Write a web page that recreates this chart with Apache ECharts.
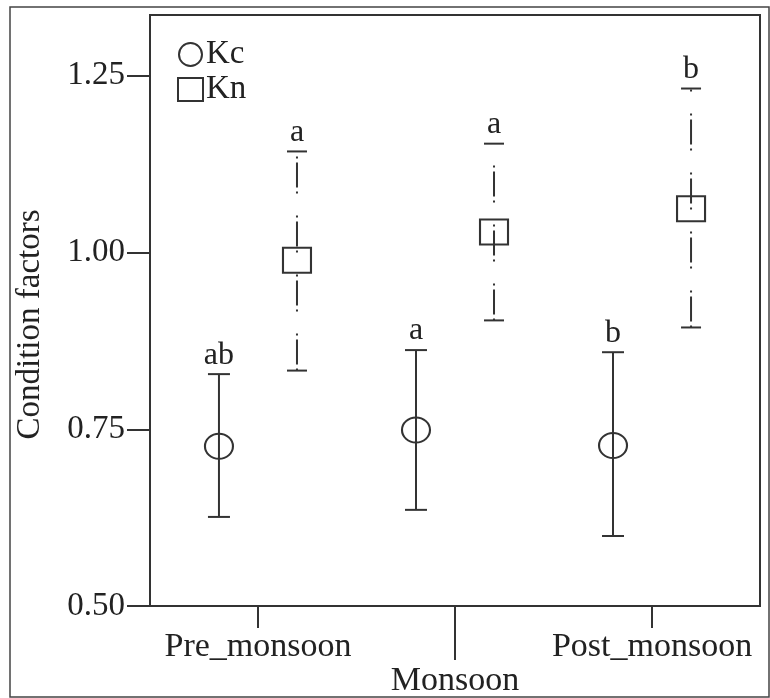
<!DOCTYPE html>
<html>
<head>
<meta charset="utf-8">
<script src="https://cdn.jsdelivr.net/npm/echarts@6/dist/echarts.min.js"></script>
<style>
  html, body { margin: 0; padding: 0; background: #fff; }
  #chart { width: 770px; height: 698px; }
</style>
</head>
<body>
<div id="chart"></div>
<script>
// ---- data ----
const categories = ['Pre_monsoon', 'Monsoon', 'Post_monsoon'];
const yTicks = [0.50, 0.75, 1.00, 1.25];

const kcMean = [0.726, 0.749, 0.727];
const kcLow  = [0.626, 0.636, 0.599];
const kcHigh = [0.828, 0.862, 0.859];
const kcLetters = ['ab', 'a', 'b'];

const knMean = [0.989, 1.029, 1.062];
const knLow  = [0.833, 0.904, 0.894];
const knHigh = [1.143, 1.154, 1.232];
const knLetters = ['a', 'a', 'b'];

// ---- styling / layout ----
const FONT = 'Liberation Serif';
const INK = '#333';
const TXT = '#222';
const OFFSET = 0.198; // horizontal dodge of the two groups (axis units)

const catPos = categories.map((c, i) => i + 1);

function pts(mean, dir) {
  return mean.map((m, i) => [catPos[i] + dir * OFFSET, m]);
}
function bars(low, high, letters, dir) {
  return low.map((l, i) => [catPos[i] + dir * OFFSET, l, high[i], letters[i]]);
}

function errRender(capHalf, dash) {
  return function (params, api) {
    const x = api.value(0);
    const lo = api.coord([x, api.value(1)]);
    const hi = api.coord([x, api.value(2)]);
    const st = { stroke: INK, lineWidth: 2, lineDash: dash || null };
    const capSt = { stroke: INK, lineWidth: 2 };
    return {
      type: 'group',
      children: [
        { type: 'line', shape: { x1: lo[0], y1: lo[1], x2: hi[0], y2: hi[1] }, style: st },
        { type: 'line', shape: { x1: lo[0] - capHalf, y1: lo[1], x2: lo[0] + capHalf, y2: lo[1] }, style: capSt },
        { type: 'line', shape: { x1: hi[0] - capHalf, y1: hi[1], x2: hi[0] + capHalf, y2: hi[1] }, style: capSt },
        { type: 'text', x: hi[0], y: hi[1] - 3,
          style: { text: api.value(3), fill: TXT, font: '32px "' + FONT + '"', align: 'center', verticalAlign: 'bottom' } }
      ]
    };
  };
}

const chart = echarts.init(document.getElementById('chart'));
const option = {
  backgroundColor: '#fff',
  animation: false,
  graphic: [{
    type: 'rect', z: 100, silent: true,
    shape: { x: 10, y: 7, width: 759, height: 690 },
    style: { fill: 'none', stroke: '#444', lineWidth: 1.5 }
  }],
  grid: {
    left: 150, right: 10, top: 15, bottom: 90,
    show: true, borderColor: INK, borderWidth: 2, backgroundColor: 'transparent'
  },
  legend: {
    orient: 'vertical', left: 172, top: 33,
    itemWidth: 25, itemHeight: 23, itemGap: 2,
    textStyle: { fontFamily: FONT, fontSize: 33, color: TXT, padding: [0, 0, 0, -2] },
    data: ['Kc', 'Kn']
  },
  xAxis: [{
    type: 'value', min: 0.452, max: 3.548,
    splitLine: { show: false },
    axisLine: { show: true, onZero: false, lineStyle: { color: INK, width: 2 } },
    axisTick: { show: true, customValues: [1, 3], length: 22, lineStyle: { color: INK, width: 2 } },
    axisLabel: {
      customValues: catPos, margin: 24,
      fontFamily: FONT, fontSize: 34, color: TXT,
      formatter: function (v) {
        const i = Math.round(v) - 1;
        return i === 1 ? '\n' + categories[i] : categories[i];
      }
    }
  }, {
    type: 'value', min: 0.452, max: 3.548, position: 'bottom',
    splitLine: { show: false },
    axisLine: { show: false, onZero: false },
    axisTick: { show: true, customValues: [2], length: 54, lineStyle: { color: INK, width: 2 } },
    axisLabel: { show: false }
  }],
  yAxis: {
    type: 'value', min: 0.5, max: 1.336, interval: 0.25,
    name: 'Condition factors', nameLocation: 'middle', nameGap: 103,
    nameTextStyle: { fontFamily: FONT, fontSize: 33, color: TXT, padding: [0, 28, 0, 0] },
    splitLine: { show: false },
    axisLine: { show: true, lineStyle: { color: INK, width: 2 } },
    axisTick: { show: true, customValues: yTicks, length: 23, lineStyle: { color: INK, width: 2 } },
    axisLabel: {
      customValues: yTicks, margin: 25,
      fontFamily: FONT, fontSize: 33, color: TXT,
      formatter: function (v) { return v.toFixed(2); }
    }
  },
  series: [
    {
      type: 'custom', name: 'KcErr', renderItem: errRender(11, null),
      data: bars(kcLow, kcHigh, kcLetters, -1), clip: false, z: 2
    },
    {
      type: 'custom', name: 'KnErr', renderItem: errRender(10, [2, 4, 25, 4, 2, 22]),
      data: bars(knLow, knHigh, knLetters, 1), clip: false, z: 2
    },
    {
      type: 'scatter', name: 'Kc', symbol: 'circle', symbolSize: [28, 25],
      itemStyle: { color: 'rgba(255,255,255,0)', borderColor: INK, borderWidth: 2, opacity: 1 },
      data: pts(kcMean, -1), z: 3
    },
    {
      type: 'scatter', name: 'Kn', symbol: 'rect', symbolSize: [28, 25],
      itemStyle: { color: 'rgba(255,255,255,0)', borderColor: INK, borderWidth: 2, opacity: 1 },
      data: pts(knMean, 1), z: 3
    }
  ]
};
chart.setOption(option);
</script>
</body>
</html>
